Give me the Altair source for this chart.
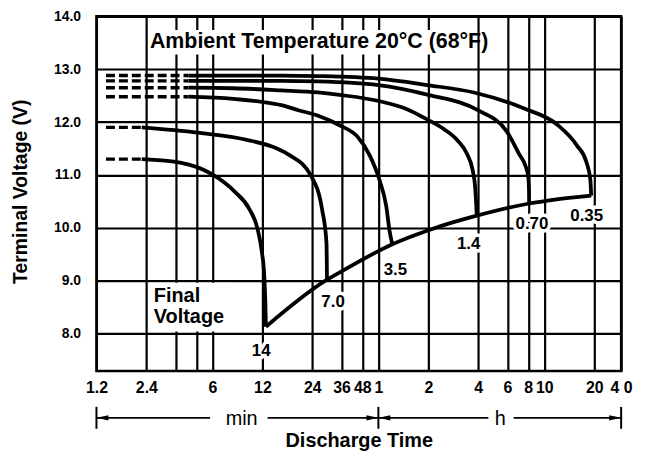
import altair as alt
import pandas as pd

FONT = "Liberation Sans"

# ---------------- axes ----------------
x_domain = [1.2, 1741.6]          # minutes (right edge labelled "40" h in the reference)
y_domain = [7.29, 14.0]
x_tick_values = [1.2, 2.4, 3.6, 4.8, 6, 12, 24, 36, 48, 60, 120, 240, 360, 480, 600, 1200, 1741.6]
x_tick_labels = ["1.2", "2.4", "", "", "6", "12", "24", "36", "48", "1", "2", "4", "6", "8", "10", "20", "4 0"]
y_tick_values = [8, 9, 10, 11, 12, 13, 14]

# ---------------- discharge curves (time in min, voltage in V) ----------------
curve_names = ["0.35", "0.70", "1.4", "3.5", "7.0", "14"]
curve_times = [
    [4.3, 15.6, 26, 60, 118, 226, 450, 719, 942, 1076, 1135, 1150],
    [4.3, 15.6, 26, 60, 118, 240, 355, 424, 462, 480, 485, 486],
    [4.3, 8, 15.6, 26, 36, 60, 90, 118, 150, 179, 205, 222, 230, 235],
    [4.3, 8, 12, 15.6, 20, 26, 35, 45, 53, 61, 67, 70, 72.8],
    [2.25, 4.9, 9.8, 14.7, 17.6, 23.5, 27.5, 29.2, 29.4],
    [2.25, 3.9, 6.0, 8.2, 10.0, 11.2, 11.9, 12.3, 12.5, 12.6],
]
curve_volts = [
    [12.88, 12.88, 12.87, 12.82, 12.70, 12.56, 12.26, 11.95, 11.56, 11.24, 10.92, 10.61],
    [12.78, 12.78, 12.77, 12.70, 12.52, 12.22, 11.83, 11.39, 11.17, 10.97, 10.70, 10.46],
    [12.65, 12.64, 12.60, 12.56, 12.51, 12.40, 12.24, 12.05, 11.86, 11.66, 11.40, 11.09, 10.75, 10.23],
    [12.48, 12.44, 12.38, 12.32, 12.22, 12.12, 11.94, 11.72, 11.38, 10.90, 10.40, 9.95, 9.69],
    [11.90, 11.80, 11.66, 11.50, 11.37, 10.99, 10.34, 9.71, 9.02],
    [11.30, 11.23, 11.01, 10.68, 10.36, 9.99, 9.55, 9.12, 8.60, 8.13],
]
dash_start_time = 1.37

# final voltage line
final_times = [12.6, 29.4, 36.6, 72.8, 124, 235, 486, 676, 1150]
final_volts = [8.13, 9.02, 9.19, 9.69, 9.97, 10.23, 10.46, 10.53, 10.61]

# current labels along the final voltage line
label_texts = ["14", "7.0", "3.5", "1.4", "0.70", "0.35"]
label_times = [11.8, 32, 76, 210, 505, 1080]
label_volts = [7.67, 8.60, 9.20, 9.70, 10.07, 10.22]

# ---------------- annotations ----------------
title_text = ["Ambient Temperature 20°C (68°F)"]
title_time = [2.52]
title_volt = [13.51]
title_box = {"t1": [2.5], "t2": [235], "v1": [13.28], "v2": [13.74]}

final_text = ["Final\nVoltage"]
final_time = [2.66]
final_volt = [8.89]
final_box = {"t1": [2.49], "t2": [7.9], "v1": [8.04], "v2": [8.96]}

span_bar_times = [1.2, 60, 1741.6]
span_line_from = [1.2, 12.9, 60, 392]
span_line_to = [5.8, 60, 276, 1741.6]
span_texts = ["min", "h"]
span_text_times = [9.0, 326]
arrow_left_times = [1.2, 60]
arrow_right_times = [60, 1741.6]
ROW_Y = 404
BAR_Y1, BAR_Y2 = 393, 415

# ---------------- data frames ----------------
rows, dash_rows = [], []
for name, ts, vs in zip(curve_names, curve_times, curve_volts):
    for i, (t, v) in enumerate(zip(ts, vs)):
        rows.append({"curve": name, "i": i, "t": t, "v": v})
    dash_rows.append({"curve": name, "i": 0, "t": dash_start_time, "v": vs[0]})
    dash_rows.append({"curve": name, "i": 1, "t": ts[0], "v": vs[0]})
df_curves = pd.DataFrame(rows)
df_dash = pd.DataFrame(dash_rows)
df_final = pd.DataFrame({"t": final_times, "v": final_volts})
df_labels = pd.DataFrame({"label": label_texts, "t": label_times, "v": label_volts})
df_title = pd.DataFrame({"label": title_text, "t": title_time, "v": title_volt})
df_final_text = pd.DataFrame({"label": final_text, "t": final_time, "v": final_volt})
df_boxes = pd.concat([pd.DataFrame(title_box), pd.DataFrame(final_box)], ignore_index=True)
df_bars = pd.DataFrame({"t": span_bar_times})
df_lines = pd.DataFrame({"t1": span_line_from, "t2": span_line_to})
df_span_text = pd.DataFrame({"label": span_texts, "t": span_text_times})
df_arrow_l = pd.DataFrame({"t": arrow_left_times})
df_arrow_r = pd.DataFrame({"t": arrow_right_times})

# ---------------- scales & axes ----------------
xscale = alt.Scale(type="log", domain=x_domain, nice=False)
yscale = alt.Scale(domain=y_domain, nice=False, zero=False)

label_expr = ("[" + ",".join("'%s'" % s for s in x_tick_labels) + "][indexof(["
              + ",".join(str(v) for v in x_tick_values) + "], datum.value)]")

xaxis = alt.Axis(values=x_tick_values, labelExpr=label_expr, grid=True, ticks=False, domain=False,
                 labelFont=FONT, labelFontSize=16, labelFontWeight="bold", labelPadding=9,
                 labelBaseline="top", labelAlign="center", labelFlush=False, labelOverlap=False,
                 title="Discharge Time", titleFont=FONT, titleFontSize=20, titleFontWeight="bold",
                 titleX=264, titleY=70, titleBaseline="middle", titleAlign="center")
yaxis = alt.Axis(values=y_tick_values, format=".1f", grid=True, ticks=False, domain=False,
                 labelFont=FONT, labelFontSize=14, labelFontWeight="bold", labelPadding=16,
                 title="Terminal Voltage (V)", titleFont=FONT, titleFontSize=19.5, titleFontWeight="bold",
                 titleX=-76, titleY=176, titleAngle=270, titleBaseline="middle", titleAlign="center")

def X(field="t"):
    return alt.X(f"{field}:Q", scale=xscale, axis=xaxis)

def Y(field="v"):
    return alt.Y(f"{field}:Q", scale=yscale, axis=yaxis)

LW = 3.8
solid = alt.Chart(df_curves).mark_line(color="black", strokeWidth=LW, interpolate="monotone").encode(
    x=X(), y=Y(), detail="curve:N", order="i:Q")

dashed = alt.Chart(df_dash).mark_line(color="black", strokeWidth=3.4, strokeDash=[9, 4]).encode(
    x=X(), y=Y(), detail="curve:N", order="i:Q")

final = alt.Chart(df_final).mark_line(color="black", strokeWidth=LW, interpolate="monotone").encode(
    x=X(), y=Y())

boxes = alt.Chart(df_boxes).mark_rect(color="white").encode(
    x=X("t1"), x2="t2:Q", y=Y("v1"), y2="v2:Q")

halo = alt.Chart(df_labels).mark_text(font=FONT, fontSize=17, fontWeight="bold", fill="white",
                                      stroke="white", strokeWidth=7, strokeJoin="round").encode(
    x=X(), y=Y(), text="label:N")
labels = alt.Chart(df_labels).mark_text(font=FONT, fontSize=17, fontWeight="bold", color="black").encode(
    x=X(), y=Y(), text="label:N")

title = alt.Chart(df_title).mark_text(font=FONT, fontSize=21.5, fontWeight="bold", color="black",
                                      align="left", baseline="middle").encode(
    x=X(), y=Y(), text="label:N")

final_lbl = alt.Chart(df_final_text).mark_text(font=FONT, fontSize=20, fontWeight="bold", color="black",
                                               align="left", baseline="top", lineBreak="\n",
                                               lineHeight=21).encode(
    x=X(), y=Y(), text="label:N")

bars = alt.Chart(df_bars).mark_rule(color="black", strokeWidth=2).encode(
    x=X(), y=alt.value(BAR_Y1), y2=alt.value(BAR_Y2))
lines = alt.Chart(df_lines).mark_rule(color="black", strokeWidth=1.8).encode(
    x=X("t1"), x2="t2:Q", y=alt.value(ROW_Y))
arrow_l = alt.Chart(df_arrow_l).mark_point(shape="M0,0L2,-0.45L2,0.45Z", size=144, filled=True,
                                           color="black", opacity=1).encode(x=X(), y=alt.value(ROW_Y))
arrow_r = alt.Chart(df_arrow_r).mark_point(shape="M0,0L-2,-0.45L-2,0.45Z", size=144, filled=True,
                                           color="black", opacity=1).encode(x=X(), y=alt.value(ROW_Y))
span_txt = alt.Chart(df_span_text).mark_text(font=FONT, fontSize=20, color="black",
                                             baseline="middle").encode(
    x=X(), y=alt.value(ROW_Y + 1), text="label:N")

chart = alt.layer(
    solid, dashed, final, boxes, halo, labels, title, final_lbl,
    bars, lines, arrow_l, arrow_r, span_txt
).properties(
    width=528, height=357,
    autosize=alt.AutoSizeParams(type="none"),
    padding={"left": 89, "top": 7, "right": 22, "bottom": 80},
).configure_view(
    stroke="black", strokeWidth=2.5
).configure_axis(
    gridColor="black", gridWidth=2.2, gridOpacity=1, labelColor="black", titleColor="black"
)

chart.save("out.html", embed_options={"renderer": "svg", "actions": False})
